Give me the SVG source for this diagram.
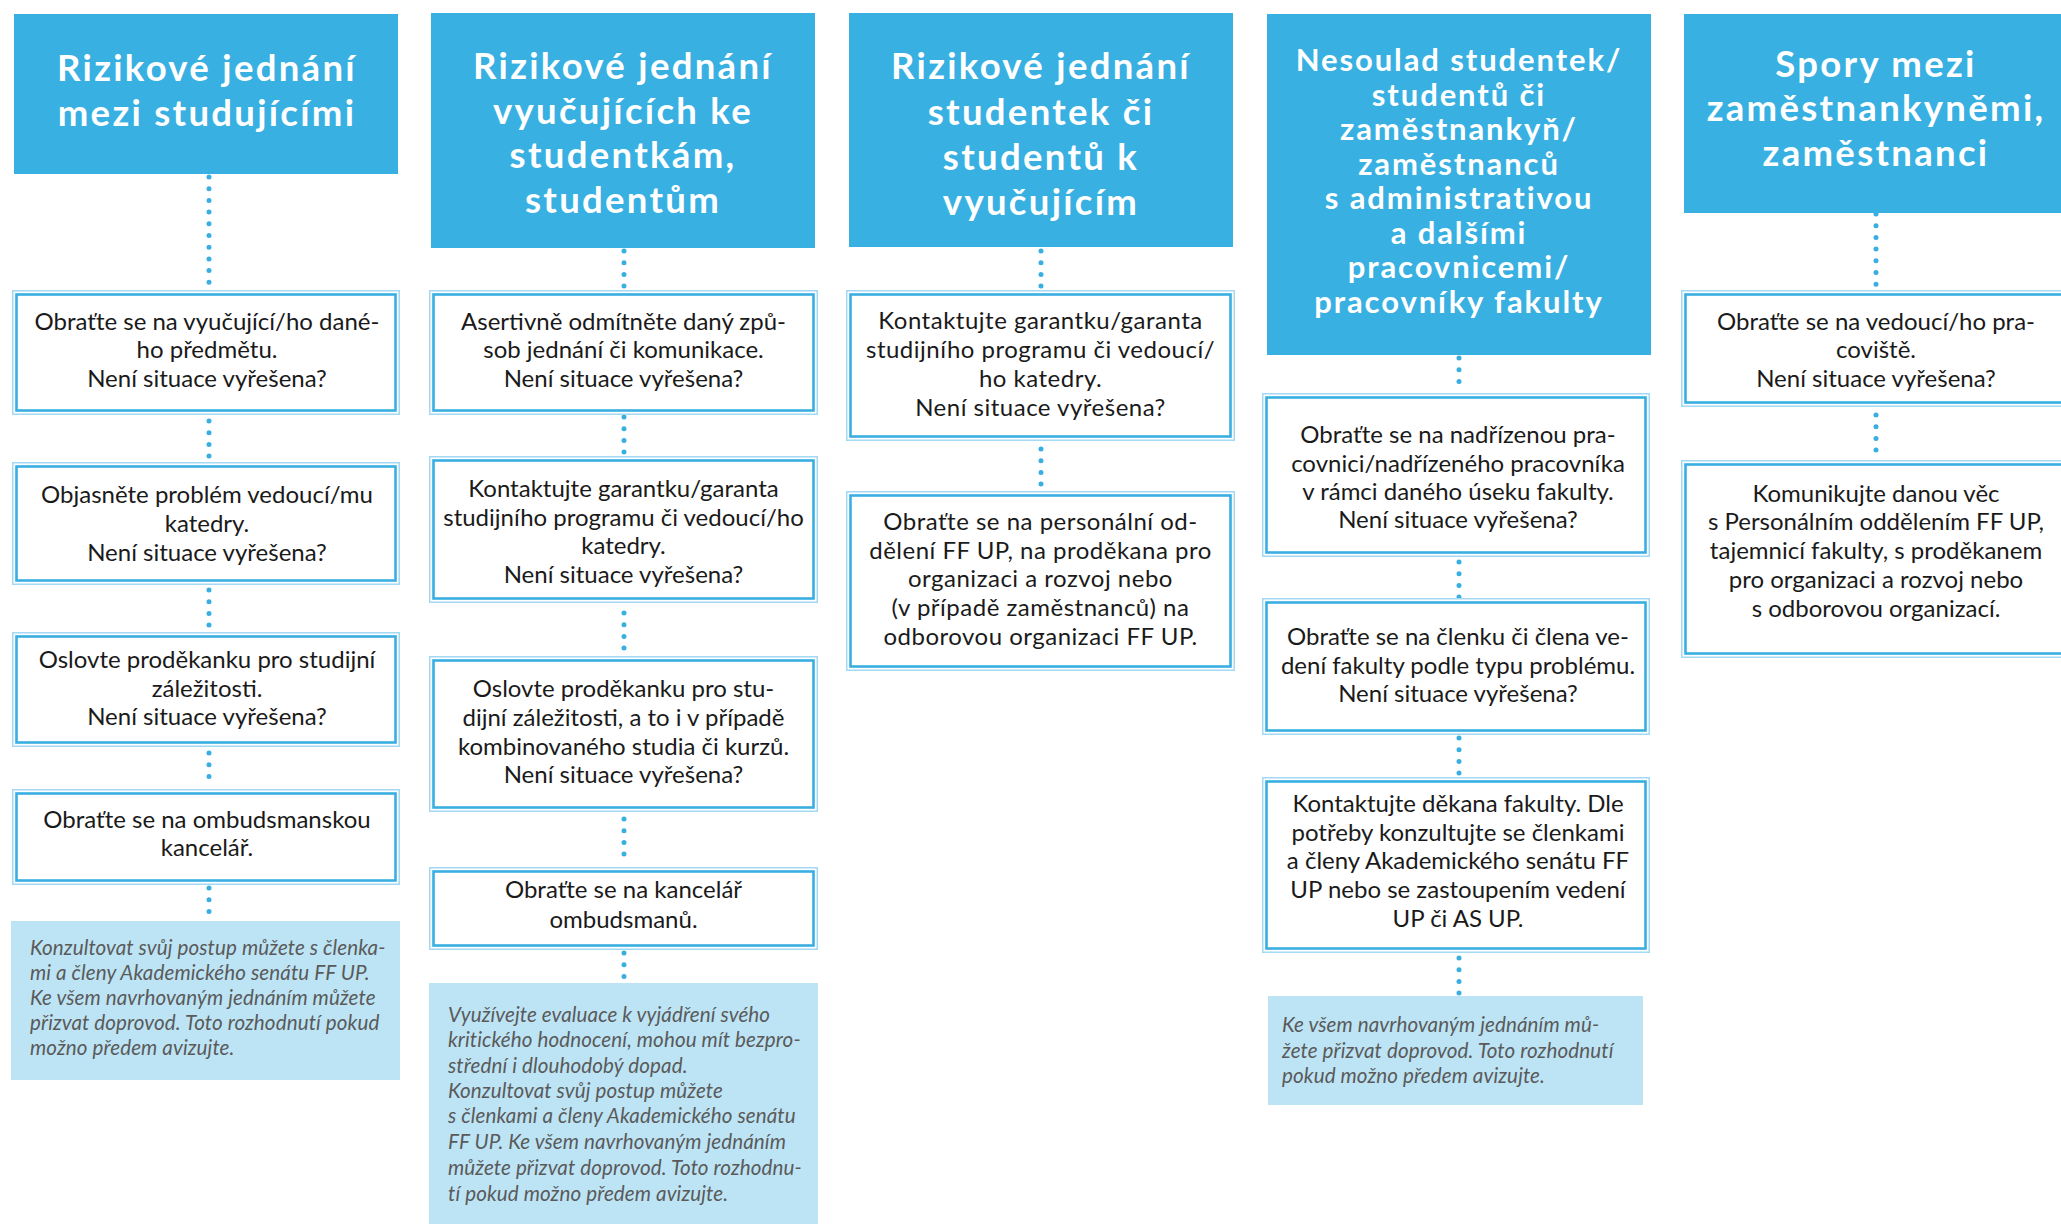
<svg xmlns="http://www.w3.org/2000/svg" width="2061" height="1224" viewBox="0 0 2061 1224">
<style>
.hdr{fill:#39b0e2}
.ht{fill:#fff;font-family:Lato,"Open Sans",sans-serif;font-weight:700;font-size:36.5px;letter-spacing:2.3px;text-anchor:middle}
.ht4{font-size:31px;letter-spacing:1.9px}
.bo{fill:#fff;stroke:#a3d9f2;stroke-width:1.5}
.bi{fill:none;stroke:#39aee1;stroke-width:2.6}
.bt{fill:#1a1a1a;font-family:Lato,"Open Sans",sans-serif;font-size:24px;text-anchor:middle}
.w{letter-spacing:0.5px}
.nb{fill:#bde4f5}
.nt{fill:#5a5a5a;font-family:Lato,"Open Sans",sans-serif;font-style:italic;font-size:20.6px;letter-spacing:0.1px}
.conn line{stroke:#39aee1;stroke-width:5;stroke-linecap:round;stroke-dasharray:0 11.7;fill:none}
</style>
<rect width="2061" height="1224" fill="#fff"/>

<g class="conn" id="connectors">
<line x1="209" y1="177" x2="209" y2="289"/>
<line x1="209" y1="421" x2="209" y2="457"/>
<line x1="209" y1="590" x2="209" y2="626"/>
<line x1="209" y1="753" x2="209" y2="784"/>
<line x1="209" y1="888" x2="209" y2="917"/>
<line x1="624" y1="251" x2="624" y2="287"/>
<line x1="624" y1="417" x2="624" y2="453"/>
<line x1="624" y1="613" x2="624" y2="649"/>
<line x1="624" y1="819" x2="624" y2="859"/>
<line x1="624" y1="953" x2="624" y2="980"/>
<line x1="1041" y1="251" x2="1041" y2="287"/>
<line x1="1041" y1="449" x2="1041" y2="486"/>
<line x1="1459" y1="358" x2="1459" y2="393"/>
<line x1="1459" y1="562" x2="1459" y2="598"/>
<line x1="1459" y1="738" x2="1459" y2="774"/>
<line x1="1459" y1="958" x2="1459" y2="994"/>
<line x1="1876" y1="214" x2="1876" y2="287"/>
<line x1="1876" y1="415" x2="1876" y2="452"/>
</g>

<!-- Column 1 -->
<g id="c1h"><rect class="hdr" x="14" y="14" width="384" height="160"/>
<text class="ht" x="207" y="81">Rizikové jednání</text>
<text class="ht" x="207" y="126">mezi studujícími</text></g>
<g id="c1b1"><rect class="bo" x="12.75" y="290.75" width="386.5" height="123.5"/><rect class="bi" x="16.5" y="294.5" width="379" height="116"/>
<text class="bt" x="207" y="330">Obraťte se na vyučující/ho dané-</text>
<text class="bt" x="207" y="358">ho předmětu.</text>
<text class="bt" x="207" y="387">Není situace vyřešena?</text></g>
<g id="c1b2"><rect class="bo" x="12.75" y="462.75" width="386.5" height="121.5"/><rect class="bi" x="16.5" y="466.5" width="379" height="114"/>
<text class="bt" x="207" y="503">Objasněte problém vedoucí/mu</text>
<text class="bt" x="207" y="532">katedry.</text>
<text class="bt" x="207" y="561">Není situace vyřešena?</text></g>
<g id="c1b3"><rect class="bo" x="12.75" y="632.75" width="386.5" height="113.5"/><rect class="bi" x="16.5" y="636.5" width="379" height="106"/>
<text class="bt" x="207" y="668">Oslovte proděkanku pro studijní</text>
<text class="bt" x="207" y="697">záležitosti.</text>
<text class="bt" x="207" y="725">Není situace vyřešena?</text></g>
<g id="c1b4"><rect class="bo" x="12.75" y="789.75" width="386.5" height="94.5"/><rect class="bi" x="16.5" y="793.5" width="379" height="87"/>
<text class="bt" x="207" y="828">Obraťte se na ombudsmanskou</text>
<text class="bt" x="207" y="856">kancelář.</text></g>
<g id="c1n"><rect class="nb" x="11" y="921" width="389" height="159"/>
<text class="nt" x="30" y="955">Konzultovat svůj postup můžete s členka-</text>
<text class="nt" x="30" y="980">mi a členy Akademického senátu FF UP.</text>
<text class="nt" x="30" y="1005">Ke všem navrhovaným jednáním můžete</text>
<text class="nt" x="30" y="1030">přizvat doprovod. Toto rozhodnutí pokud</text>
<text class="nt" x="30" y="1055">možno předem avizujte.</text></g>

<!-- Column 2 -->
<g id="c2h"><rect class="hdr" x="431" y="13" width="384" height="235"/>
<text class="ht" x="623" y="79">Rizikové jednání</text>
<text class="ht" x="623" y="124">vyučujících ke</text>
<text class="ht" x="623" y="168">studentkám,</text>
<text class="ht" x="623" y="213">studentům</text></g>
<g id="c2b1"><rect class="bo" x="429.75" y="290.75" width="387.5" height="123.5"/><rect class="bi" x="433.5" y="294.5" width="380" height="116"/>
<text class="bt" x="623.5" y="330">Asertivně odmítněte daný způ-</text>
<text class="bt" x="623.5" y="358">sob jednání či komunikace.</text>
<text class="bt" x="623.5" y="387">Není situace vyřešena?</text></g>
<g id="c2b2"><rect class="bo" x="429.75" y="456.75" width="387.5" height="145.5"/><rect class="bi" x="433.5" y="460.5" width="380" height="138"/>
<text class="bt" x="623.5" y="497">Kontaktujte garantku/garanta</text>
<text class="bt" x="623.5" y="526">studijního programu či vedoucí/ho</text>
<text class="bt" x="623.5" y="554">katedry.</text>
<text class="bt" x="623.5" y="583">Není situace vyřešena?</text></g>
<g id="c2b3"><rect class="bo" x="429.75" y="656.75" width="387.5" height="154.5"/><rect class="bi" x="433.5" y="660.5" width="380" height="147"/>
<text class="bt" x="623.5" y="697">Oslovte proděkanku pro stu-</text>
<text class="bt" x="623.5" y="726">dijní záležitosti, a to i v případě</text>
<text class="bt" x="623.5" y="755">kombinovaného studia či kurzů.</text>
<text class="bt" x="623.5" y="783">Není situace vyřešena?</text></g>
<g id="c2b4"><rect class="bo" x="429.75" y="867.75" width="387.5" height="81.5"/><rect class="bi" x="433.5" y="871.5" width="380" height="74"/>
<text class="bt" x="623.5" y="898">Obraťte se na kancelář</text>
<text class="bt" x="623.5" y="928">ombudsmanů.</text></g>
<g id="c2n"><rect class="nb" x="429" y="983" width="389" height="241"/>
<text class="nt" x="448" y="1022">Využívejte evaluace k vyjádření svého</text>
<text class="nt" x="448" y="1047">kritického hodnocení, mohou mít bezpro-</text>
<text class="nt" x="448" y="1073">střední i dlouhodobý dopad.</text>
<text class="nt" x="448" y="1098">Konzultovat svůj postup můžete</text>
<text class="nt" x="448" y="1123">s členkami a členy Akademického senátu</text>
<text class="nt" x="448" y="1149">FF UP. Ke všem navrhovaným jednáním</text>
<text class="nt" x="448" y="1175">můžete přizvat doprovod. Toto rozhodnu-</text>
<text class="nt" x="448" y="1201">tí pokud možno předem avizujte.</text></g>

<!-- Column 3 -->
<g id="c3h"><rect class="hdr" x="849" y="13" width="384" height="234"/>
<text class="ht" x="1041" y="79">Rizikové jednání</text>
<text class="ht" x="1041" y="125">studentek či</text>
<text class="ht" x="1041" y="170">studentů k</text>
<text class="ht" x="1041" y="215">vyučujícím</text></g>
<g id="c3b1"><rect class="bo" x="846.75" y="290.75" width="387.5" height="149.5"/><rect class="bi" x="850.5" y="294.5" width="380" height="142"/>
<text class="bt w" x="1040.5" y="329">Kontaktujte garantku/garanta</text>
<text class="bt w" x="1040.5" y="358">studijního programu či vedoucí/</text>
<text class="bt w" x="1040.5" y="387">ho katedry.</text>
<text class="bt w" x="1040.5" y="416">Není situace vyřešena?</text></g>
<g id="c3b2"><rect class="bo" x="846.75" y="491.75" width="387.5" height="178.5"/><rect class="bi" x="850.5" y="495.5" width="380" height="171"/>
<text class="bt w" x="1040.5" y="530">Obraťte se na personální od-</text>
<text class="bt w" x="1040.5" y="559">dělení FF UP, na proděkana pro</text>
<text class="bt w" x="1040.5" y="587">organizaci a rozvoj nebo</text>
<text class="bt w" x="1040.5" y="616">(v případě zaměstnanců) na</text>
<text class="bt w" x="1040.5" y="645">odborovou organizaci FF UP.</text></g>

<!-- Column 4 -->
<g id="c4h"><rect class="hdr" x="1267" y="14" width="384" height="341"/>
<text class="ht ht4" x="1459" y="71">Nesoulad studentek/</text>
<text class="ht ht4" x="1459" y="106">studentů či</text>
<text class="ht ht4" x="1459" y="140">zaměstnankyň/</text>
<text class="ht ht4" x="1459" y="175">zaměstnanců</text>
<text class="ht ht4" x="1459" y="209">s administrativou</text>
<text class="ht ht4" x="1459" y="244">a dalšími</text>
<text class="ht ht4" x="1459" y="278">pracovnicemi/</text>
<text class="ht ht4" x="1459" y="313">pracovníky fakulty</text></g>
<g id="c4b1"><rect class="bo" x="1262.75" y="393.75" width="386.5" height="162.5"/><rect class="bi" x="1266.5" y="397.5" width="379" height="155"/>
<text class="bt" x="1458" y="443">Obraťte se na nadřízenou pra-</text>
<text class="bt" x="1458" y="472">covnici/nadřízeného pracovníka</text>
<text class="bt" x="1458" y="500">v rámci daného úseku fakulty.</text>
<text class="bt" x="1458" y="528">Není situace vyřešena?</text></g>
<g id="c4b2"><rect class="bo" x="1262.75" y="598.75" width="386.5" height="135.5"/><rect class="bi" x="1266.5" y="602.5" width="379" height="128"/>
<text class="bt" x="1458" y="645">Obraťte se na členku či člena ve-</text>
<text class="bt" x="1458" y="674">dení fakulty podle typu problému.</text>
<text class="bt" x="1458" y="702">Není situace vyřešena?</text></g>
<g id="c4b3"><rect class="bo" x="1262.75" y="777.75" width="386.5" height="174.5"/><rect class="bi" x="1266.5" y="781.5" width="379" height="167"/>
<text class="bt" x="1458" y="812">Kontaktujte děkana fakulty. Dle</text>
<text class="bt" x="1458" y="841">potřeby konzultujte se členkami</text>
<text class="bt" x="1458" y="869">a členy Akademického senátu FF</text>
<text class="bt" x="1458" y="898">UP nebo se zastoupením vedení</text>
<text class="bt" x="1458" y="927">UP či AS UP.</text></g>
<g id="c4n"><rect class="nb" x="1268" y="996" width="375" height="109"/>
<text class="nt" x="1282" y="1032">Ke všem navrhovaným jednáním mů-</text>
<text class="nt" x="1282" y="1058">žete přizvat doprovod. Toto rozhodnutí</text>
<text class="nt" x="1282" y="1083">pokud možno předem avizujte.</text></g>

<!-- Column 5 -->
<g id="c5h"><rect class="hdr" x="1684" y="14" width="384" height="199"/>
<text class="ht" x="1876" y="77">Spory mezi</text>
<text class="ht" x="1876" y="121">zaměstnankyněmi,</text>
<text class="ht" x="1876" y="166">zaměstnanci</text></g>
<g id="c5b1"><rect class="bo" x="1681.75" y="290.75" width="387.5" height="115.5"/><rect class="bi" x="1685.5" y="294.5" width="380" height="108"/>
<text class="bt" x="1876" y="330">Obraťte se na vedoucí/ho pra-</text>
<text class="bt" x="1876" y="358">coviště.</text>
<text class="bt" x="1876" y="387">Není situace vyřešena?</text></g>
<g id="c5b2"><rect class="bo" x="1681.75" y="460.75" width="387.5" height="196.5"/><rect class="bi" x="1685.5" y="464.5" width="380" height="189"/>
<text class="bt" x="1876" y="502">Komunikujte danou věc</text>
<text class="bt" x="1876" y="530">s Personálním oddělením FF UP,</text>
<text class="bt" x="1876" y="559">tajemnicí fakulty, s proděkanem</text>
<text class="bt" x="1876" y="588">pro organizaci a rozvoj nebo</text>
<text class="bt" x="1876" y="617">s odborovou organizací.</text></g>
</svg>
